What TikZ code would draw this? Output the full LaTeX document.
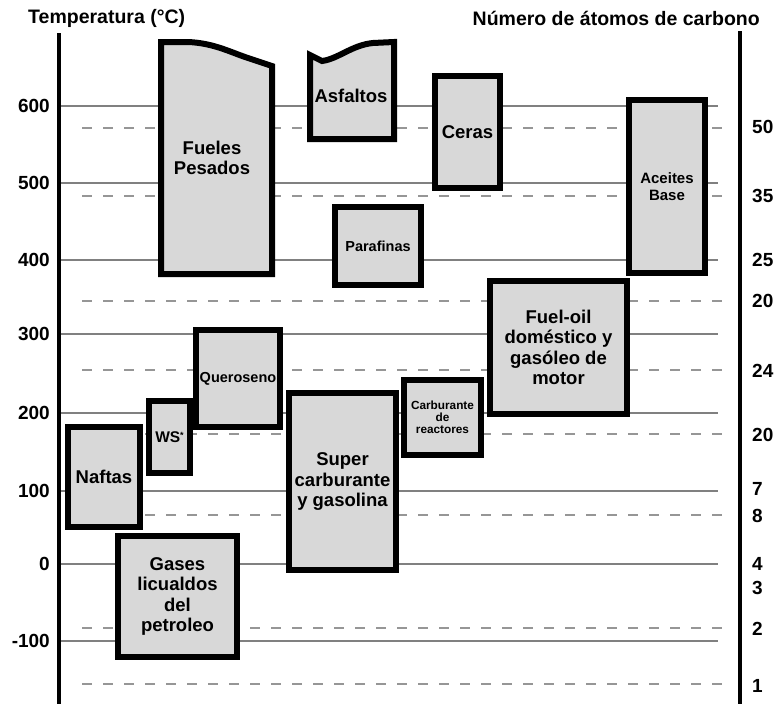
\documentclass[tikz,border=0pt]{standalone}
\usepackage{fontspec}
\setmainfont{Liberation Sans}
\definecolor{boxgray}{RGB}{216,216,216}
\definecolor{gridgray}{RGB}{128,128,128}
\definecolor{dashgray}{RGB}{150,150,150}
\begin{document}
\begin{tikzpicture}[x=1pt,y=-1pt,
  box/.style={draw=black, line width=6pt, fill=boxgray, line join=miter,
    inner sep=0pt, outer sep=0pt, align=center},
  solidgrid/.style={draw=gridgray, line width=1.4pt},
  dashgrid/.style={draw=dashgray, line width=1.8pt, dash pattern=on 10pt off 11pt},
  axisline/.style={draw=black, line width=4pt},
  bigtxt/.style={font=\bfseries\fontsize{18.5}{20.5}\selectfont},
  midtxt/.style={font=\bfseries\fontsize{14.5}{16.5}\selectfont},
  smalltxt/.style={font=\bfseries\fontsize{11.8}{12.2}\selectfont},
  numtxt/.style={font=\bfseries\fontsize{19}{21}\selectfont, inner sep=0pt},
  titletxt/.style={font=\bfseries\fontsize{19.5}{21}\selectfont, inner sep=0pt},
  txt/.style={inner sep=0pt, align=center}
]
\useasboundingbox (0,0) rectangle (777,704);

% solid grid lines at every 100 degrees
\foreach \yy in {106,183,260,334,413,491,564,641}
  \draw[solidgrid] (59,\yy) -- (718,\yy);
% dashed grid lines for the carbon-atom marks
\foreach \yy in {128,196,301,370,434,515,628,684}
  \draw[dashgrid] (82,\yy) -- (724,\yy);

% axes
\coordinate (lefttop) at (59,33);
\coordinate (leftbot) at (59,704);
\coordinate (righttop) at (740,31);
\coordinate (rightbot) at (740,704);
\draw[axisline] (lefttop) -- (leftbot);
\draw[axisline] (righttop) -- (rightbot);

% axis titles
\node[titletxt, anchor=west] (ttemp) at (28,18) {Temperatura (°C)};
\node[titletxt, anchor=east] (tcarb) at (760,18) {Número de átomos de carbono};

% temperature scale
\foreach \yy/\tt in {106/600,183/500,260/400,334/300,413/200,491/100,564/0,641/-100}
  \node[numtxt, anchor=east] at (50,\yy) {\tt};

% carbon-atom scale
\foreach \yy/\tt in {127/50,196/35,260/25,301/20,371/24,435/20,489/7,516/8,564/4,588/3,629/2,686/1}
  \node[numtxt, anchor=west] at (752,\yy) {\tt};

% heavy fuels (wavy top)
\draw[box] (161,274) -- (161,42) -- (188,42)
  .. controls (212,43) and (228,51) .. (245,57) -- (272,66) -- (272,274) -- cycle;
\node[txt, bigtxt] (fueles) at (212,158) {Fueles\\Pesados};

% asphalts (wavy top)
\draw[box] (310,139) -- (310,55) -- (322,61)
  .. controls (338,59) and (352,45) .. (373,43) -- (394,42) -- (394,139) -- cycle;
\node[txt, bigtxt] (asfaltos) at (351,96) {Asfaltos};

% product boxes
\node[box, bigtxt, minimum width=65pt, minimum height=112pt] (ceras) at (467.5,132) {Ceras};
\node[box, midtxt, minimum width=86pt, minimum height=78pt] (parafinas) at (378,246) {Parafinas};
\node[box, font=\bfseries\fontsize{15}{16.7}\selectfont, minimum width=76pt, minimum height=173pt] (aceites) at (667,186.5) {Aceites\\Base};
\node[box, bigtxt, minimum width=137pt, minimum height=133pt] (fueloil) at (558.5,347.5) {Fuel-oil\\doméstico y\\gasóleo de\\motor};
\node[box, midtxt, minimum width=84pt, minimum height=97pt] (queroseno) at (238,378.5) {Queroseno};
\node[box, font=\bfseries\fontsize{15.5}{17}\selectfont, minimum width=41pt, minimum height=72pt] (ws) at (169.5,437) {WS\raisebox{0.45ex}{\fontsize{9}{9}\selectfont *}};
\node[box, bigtxt, minimum width=72pt, minimum height=100pt] (naftas) at (104,477) {Naftas};
\node[box, smalltxt, minimum width=77pt, minimum height=75pt] (reactores) at (442.5,417.5) {Carburante\\de\\reactores};
\node[box, bigtxt, minimum width=107pt, minimum height=177pt] (super) at (342.5,481.5) {Super\\carburante\\y gasolina};
\node[box, bigtxt, minimum width=119pt, minimum height=121pt] (gases) at (177.5,596.5) {Gases\\licualdos\\del\\petroleo};
\end{tikzpicture}
\end{document}
